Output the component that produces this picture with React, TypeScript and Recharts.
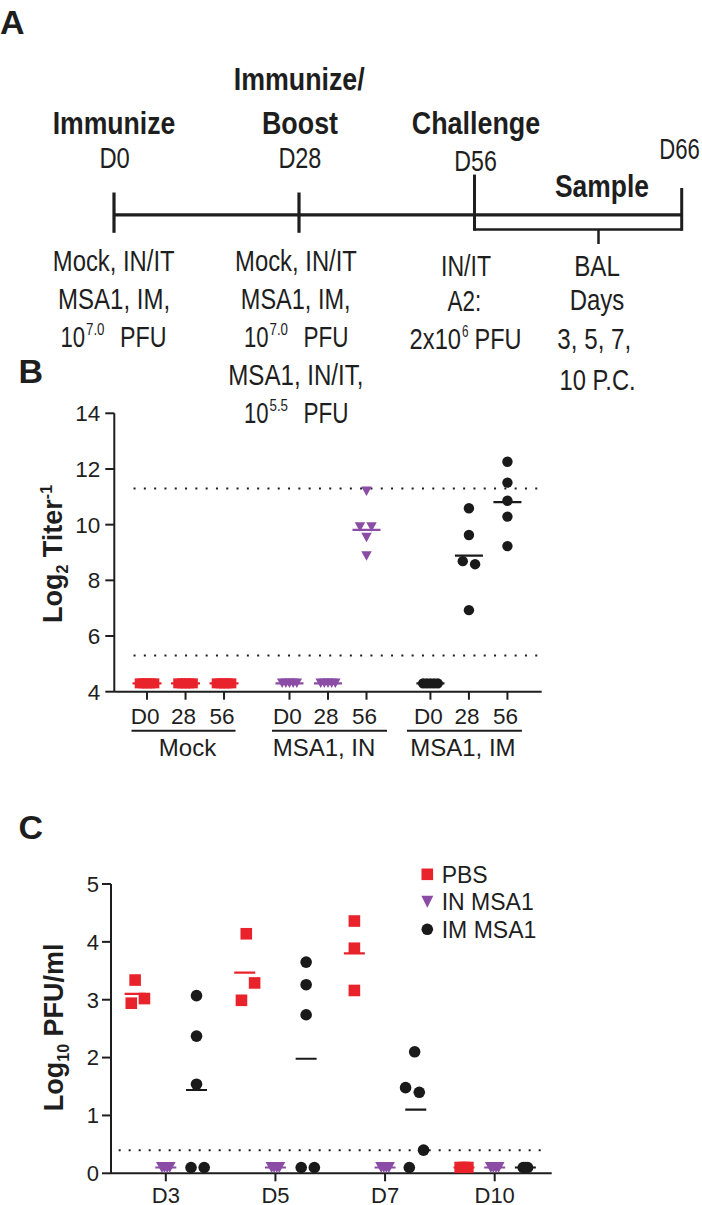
import React from 'react';
import { ScatterChart, Scatter, XAxis, YAxis, ReferenceLine, Legend } from 'recharts';

const RED = '#E8232B';
const PURPLE = '#8A4CA5';
const BLACK = '#1A1A1A';
const INK = '#1E1E1E';
const FONT = "'Liberation Sans', Arial, Helvetica, sans-serif";

// ---------- Panel B data ----------
const bGroups = ['Mock', 'MSA1, IN', 'MSA1, IM'];
const bTickLabels = ['D0', '28', '56', 'D0', '28', '56', 'D0', '28', '56'];
const bTickPositions = [0, 1, 2, 3.7, 4.7, 5.7, 7.36, 8.36, 9.36];
const bYTicks = [4, 6, 8, 10, 12, 14];
const bDetectionLimits = [11.3, 5.3];

const bMockValues = [
  [4.3, 4.3, 4.3, 4.3, 4.3],
  [4.3, 4.3, 4.3, 4.3, 4.3],
  [4.3, 4.3, 4.3, 4.3, 4.3],
];
const bMockJitter = [
  [-0.19, -0.095, 0, 0.095, 0.19],
  [-0.19, -0.095, 0, 0.095, 0.19],
  [-0.19, -0.095, 0, 0.095, 0.19],
];
const bMockMeans = [4.3, 4.3, 4.3];

const bINValues = [
  [4.3, 4.3, 4.3, 4.3, 4.3],
  [4.3, 4.3, 4.3, 4.3, 4.3],
  [11.2, 9.92, 9.92, 9.54, 8.87],
];
const bINJitter = [
  [-0.19, -0.095, 0, 0.095, 0.19],
  [-0.19, -0.095, 0, 0.095, 0.19],
  [0, -0.17, 0.13, 0, 0],
];
const bINMeans = [4.3, 4.3, 9.81];

const bIMValues = [
  [4.3, 4.3, 4.3, 4.3, 4.3],
  [10.59, 9.63, 8.69, 8.58, 6.93],
  [12.26, 11.51, 10.86, 10.29, 9.23],
];
const bIMJitter = [
  [-0.19, -0.095, 0, 0.095, 0.19],
  [0, 0, -0.16, 0.16, 0],
  [0, 0, 0, 0, 0],
];
const bIMMeans = [4.3, 8.89, 10.81];

// ---------- Panel C data ----------
const cDays = ['D3', 'D5', 'D7', 'D10'];
const cDayPositions = [0, 1, 2, 3];
const cYTicks = [0, 1, 2, 3, 4, 5];
const cDetectionLimit = 0.4;
const cLegendLabels = ['PBS', 'IN MSA1', 'IM MSA1'];

const cPBSValues = [
  [3.34, 2.94, 3.02],
  [4.14, 3.29, 2.99],
  [4.36, 3.89, 3.16],
  [0.1, 0.1, 0.1],
];
const cPBSJitter = [
  [0, -0.035, 0.085],
  [0.014, 0.09, -0.03],
  [0, 0, 0],
  [-0.035, 0, 0.035],
];
const cPBSMeans = [3.1, 3.47, 3.8, 0.1];

const cINValues = [
  [0.1, 0.1, 0.1, 0.1],
  [0.1, 0.1, 0.1, 0.1],
  [0.1, 0.1, 0.1, 0.1],
  [0.1, 0.1, 0.1, 0.1],
];
const cINJitter = [
  [-0.035, -0.012, 0.012, 0.035],
  [-0.035, -0.012, 0.012, 0.035],
  [-0.035, -0.012, 0.012, 0.035],
  [-0.035, -0.012, 0.012, 0.035],
];
const cINMeans = [0.1, 0.1, 0.1, 0.1];

const cIMValues = [
  [3.07, 2.37, 1.54, 0.1, 0.1],
  [3.65, 3.26, 2.74, 0.1, 0.1],
  [2.1, 1.48, 1.4, 0.4, 0.1],
  [0.1, 0.1, 0.1],
];
const cIMJitter = [
  [0, 0, 0, -0.05, 0.07],
  [0, 0, 0, -0.045, 0.075],
  [-0.01, -0.093, 0.032, 0.071, -0.059],
  [-0.02, 0, 0.02],
];
const cIMMeans = [1.44, 1.98, 1.1, 0.1];

// ---------- layout constants ----------
const cGroupOffset = [-0.28, 0, 0.28];
const bUnderline = [
  [-54, 50],
  [-56, 59],
  [-62, 53],
];
const bGroupLabelDx = [2, -4, -6];

// ---------- helpers ----------
function buildPoints(values: number[][], jitter: number[][], positions: number[], offset = 0) {
  const out: { x: number; y: number }[] = [];
  values.forEach((arr, i) => {
    arr.forEach((v, k) => out.push({ x: positions[i] + offset + jitter[i][k], y: v }));
  });
  return out;
}
function buildMeans(means: number[], positions: number[], offset = 0) {
  return means.map((m, i) => ({ x: positions[i] + offset, y: m }));
}

const squareShape = (size: number, color: string) => (p: any) =>
  <rect x={p.cx - size / 2} y={p.cy - size / 2} width={size} height={size} fill={color} />;
const circleShape = (r: number, color: string) => (p: any) =>
  <circle cx={p.cx} cy={p.cy} r={r} fill={color} />;
const triShape = (w: number, h: number, color: string) => (p: any) =>
  <path d={`M${p.cx - w / 2},${p.cy - h / 2} L${p.cx + w / 2},${p.cy - h / 2} L${p.cx},${p.cy + h / 2} Z`} fill={color} />;
const meanShape = (w: number, color: string) => (p: any) =>
  <line x1={p.cx - w / 2} x2={p.cx + w / 2} y1={p.cy} y2={p.cy} stroke={color} strokeWidth={2.2} />;

const bPosMock = bTickPositions.slice(0, 3);
const bPosIN = bTickPositions.slice(3, 6);
const bPosIM = bTickPositions.slice(6, 9);

const bMockPts = buildPoints(bMockValues, bMockJitter, bPosMock);
const bINPts = buildPoints(bINValues, bINJitter, bPosIN);
const bIMPts = buildPoints(bIMValues, bIMJitter, bPosIM);
const bMockMeanPts = buildMeans(bMockMeans, bPosMock);
const bINMeanPts = buildMeans(bINMeans, bPosIN);
const bIMMeanPts = buildMeans(bIMMeans, bPosIM);

const cPBSPts = buildPoints(cPBSValues, cPBSJitter, cDayPositions, cGroupOffset[0]);
const cINPts = buildPoints(cINValues, cINJitter, cDayPositions, cGroupOffset[1]);
const cIMPts = buildPoints(cIMValues, cIMJitter, cDayPositions, cGroupOffset[2]);
const cPBSMeanPts = buildMeans(cPBSMeans, cDayPositions, cGroupOffset[0]);
const cINMeanPts = buildMeans(cINMeans, cDayPositions, cGroupOffset[1]);
const cIMMeanPts = buildMeans(cIMMeans, cDayPositions, cGroupOffset[2]);

const axisStyle = { stroke: INK, strokeWidth: 2 };

const BTick = (props: any) => {
  const { x, y, payload } = props;
  const i = bTickPositions.indexOf(payload.value);
  const g = Math.floor(i / 3);
  const mid = i % 3 === 1;
  return (
    <g>
      <text x={x - 2} y={y} dy="0.71em" textAnchor="middle" fontSize={22.5} fill={INK} fontFamily={FONT}>
        {bTickLabels[i]}
      </text>
      {mid && (
        <g>
          <line x1={x + bUnderline[g][0]} x2={x + bUnderline[g][1]} y1={y + 22.7} y2={y + 22.7} stroke={INK} strokeWidth={2} />
          <text x={x + bGroupLabelDx[g]} y={y + 48.2} textAnchor="middle" fontSize={24} fill={INK} fontFamily={FONT}>
            {bGroups[g]}
          </text>
        </g>
      )}
    </g>
  );
};

const CTick = (props: any) => {
  const { x, y, payload } = props;
  const i = cDayPositions.indexOf(payload.value);
  return (
    <text x={x} y={y} dy="0.71em" textAnchor="middle" fontSize={22} fill={INK} fontFamily={FONT}>
      {cDays[i]}
    </text>
  );
};

const CLegend = () => {
  const shapes = [
    (cx: number, cy: number) => <rect x={cx - 5.8} y={cy - 5.8} width={11.6} height={11.6} fill={RED} />,
    (cx: number, cy: number) => <path d={`M${cx - 6},${cy - 6} L${cx + 6},${cy - 6} L${cx},${cy + 6} Z`} fill={PURPLE} />,
    (cx: number, cy: number) => <circle cx={cx} cy={cy} r={5.8} fill={BLACK} />,
  ];
  const rows = [19.3, 46.7, 74.3];
  return (
    <svg width={200} height={90} style={{ display: 'block' }}>
      {cLegendLabels.map((lab, i) => (
        <g key={lab}>
          {shapes[i](12.3, rows[i])}
          <text x={26.7} y={rows[i] + 8.4} fontSize={23} fill={INK} fontFamily={FONT}>
            {lab}
          </text>
        </g>
      ))}
    </svg>
  );
};

// ---------- Panel A (timeline diagram) ----------
type TProps = { x: number; y: number; w: number; s: number; b?: boolean; a?: 'middle' | 'start'; children: React.ReactNode };
const T = ({ x, y, w, s, b, a = 'middle', children }: TProps) => (
  <text
    x={x}
    y={y}
    fontSize={s}
    fontWeight={b ? 'bold' : 'normal'}
    textAnchor={a}
    textLength={w}
    lengthAdjust="spacingAndGlyphs"
    fill={INK}
    fontFamily={FONT}
  >
    {children}
  </text>
);

const RS = 29; // regular size in panel A
const BS = 31; // bold size in panel A
const SS = 16; // superscript size

const PanelA = () => (
  <svg width={702} height={440} style={{ position: 'absolute', left: 0, top: 0 }}>
    {/* headers */}
    <T x={114} y={134.3} w={122.7} s={BS} b>Immunize</T>
    <T x={299.2} y={89.5} w={131} s={BS} b>Immunize/</T>
    <T x={300} y={134.3} w={76} s={BS} b>Boost</T>
    <T x={476} y={134.3} w={128.5} s={BS} b>Challenge</T>
    <T x={602} y={197} w={94} s={BS} b>Sample</T>
    <T x={114.6} y={167.9} w={30.4} s={RS}>D0</T>
    <T x={299.9} y={167.9} w={43} s={RS}>D28</T>
    <T x={475.6} y={171.4} w={42.5} s={RS}>D56</T>
    <T x={679.5} y={158.9} w={40.5} s={RS}>D66</T>
    {/* timeline */}
    <g stroke={INK} strokeLinecap="butt" fill="none">
      <line x1={114} x2={681.7} y1={214.9} y2={214.9} strokeWidth={3.2} />
      <line x1={114} x2={114} y1={192.5} y2={232.8} strokeWidth={3.2} />
      <line x1={299} x2={299} y1={192.5} y2={232.8} strokeWidth={3.2} />
      <line x1={474.5} x2={474.5} y1={174.6} y2={230.8} strokeWidth={3} />
      <line x1={681.7} x2={681.7} y1={188} y2={230.8} strokeWidth={3} />
      <line x1={474.5} x2={681.7} y1={229.6} y2={229.6} strokeWidth={2.5} />
      <line x1={598.5} x2={598.5} y1={229.6} y2={244} strokeWidth={2.5} />
    </g>
    {/* column 1 */}
    <T x={113.7} y={270.8} w={121.8} s={RS}>Mock, IN/IT</T>
    <T x={114.1} y={308.9} w={112} s={RS}>MSA1, IM,</T>
    <T x={60.4} y={346.9} w={24.6} s={RS} a="start">10</T>
    <T x={86} y={335} w={18.5} s={SS} a="start">7.0</T>
    <T x={120} y={346.9} w={46.5} s={RS} a="start">PFU</T>
    {/* column 2 */}
    <T x={296} y={270.8} w={121.8} s={RS}>Mock, IN/IT</T>
    <T x={295.7} y={308.9} w={109.7} s={RS}>MSA1, IM,</T>
    <T x={244} y={346.9} w={24.6} s={RS} a="start">10</T>
    <T x={269.5} y={335} w={18.5} s={SS} a="start">7.0</T>
    <T x={303.5} y={346.9} w={45} s={RS} a="start">PFU</T>
    <T x={295.9} y={385} w={135.2} s={RS}>MSA1, IN/IT,</T>
    <T x={244} y={423} w={24.6} s={RS} a="start">10</T>
    <T x={269.5} y={411} w={18.5} s={SS} a="start">5.5</T>
    <T x={303.5} y={423} w={45} s={RS} a="start">PFU</T>
    {/* column 3 */}
    <T x={466} y={276} w={50} s={RS}>IN/IT</T>
    <T x={464.4} y={311} w={33.6} s={RS}>A2:</T>
    <T x={409.6} y={349} w={51.4} s={RS} a="start">2x10</T>
    <T x={462} y={337} w={6.5} s={SS} a="start">6</T>
    <T x={474.5} y={349} w={47} s={RS} a="start">PFU</T>
    {/* column 4 */}
    <T x={597} y={276} w={45.7} s={RS}>BAL</T>
    <T x={597} y={310} w={54.6} s={RS}>Days</T>
    <T x={594.3} y={349} w={73.9} s={RS}>3, 5, 7,</T>
    <T x={597.6} y={389.5} w={76} s={RS}>10 P.C.</T>
  </svg>
);

const Overlay = () => (
  <svg width={702} height={1205} style={{ position: 'absolute', left: 0, top: 0, pointerEvents: 'none' }}>
    <text x={0} y={33.5} fontSize={34} fontWeight="bold" fill={INK} fontFamily={FONT}>A</text>
    <text x={18.5} y={383.3} fontSize={34} fontWeight="bold" fill={INK} fontFamily={FONT}>B</text>
    <text x={18.5} y={839} fontSize={34} fontWeight="bold" fill={INK} fontFamily={FONT}>C</text>
    <text transform="rotate(-90)" x={-554} y={61.7} textAnchor="middle" fontSize={27} fontWeight="bold" fill={INK} fontFamily={FONT}>
      Log<tspan fontSize={16} dy={6}>2</tspan>
      <tspan dy={-6}> Titer</tspan>
      <tspan fontSize={16} dy={-10}>-1</tspan>
    </text>
    <text transform="rotate(-90)" x={-1027.3} y={63} textAnchor="middle" fontSize={27} fontWeight="bold" fill={INK} fontFamily={FONT}>
      Log<tspan fontSize={16} dy={6}>10</tspan>
      <tspan dy={-6}> PFU/ml</tspan>
    </text>
  </svg>
);

const PanelB = () => (
  <div style={{ position: 'absolute', left: 0, top: 380 }}>
    <ScatterChart width={702} height={400} margin={{ top: 33.3, left: 54.3, right: 160.3, bottom: 28.3 }}>
      <XAxis
        type="number"
        dataKey="x"
        domain={[-0.85, 10.25]}
        ticks={bTickPositions}
        interval={0}
        tickSize={8}
        tickMargin={8.3}
        height={60}
        axisLine={axisStyle}
        tickLine={axisStyle}
        tick={<BTick />}
        allowDataOverflow
      />
      <YAxis
        type="number"
        dataKey="y"
        domain={[4, 14]}
        ticks={bYTicks}
        interval={0}
        tickSize={9}
        tickMargin={5}
        width={60}
        axisLine={axisStyle}
        tickLine={axisStyle}
        tick={{ fontSize: 22.5, fill: INK, fontFamily: FONT }}
        allowDataOverflow
      />
      {bDetectionLimits.map((v) => (
        <ReferenceLine
          key={v}
          segment={[{ x: -0.35, y: v }, { x: 10.25, y: v }]}
          stroke={INK}
          strokeWidth={2}
          strokeDasharray="2 8.3"
          ifOverflow="visible"
        />
      ))}
      <Scatter data={bMockPts} shape={squareShape(10, RED)} isAnimationActive={false} />
      <Scatter data={bINPts} shape={triShape(10.5, 9.5, PURPLE)} isAnimationActive={false} />
      <Scatter data={bIMPts} shape={circleShape(5.2, BLACK)} isAnimationActive={false} />
      <Scatter data={bMockMeanPts} shape={meanShape(29, RED)} isAnimationActive={false} />
      <Scatter data={bINMeanPts} shape={meanShape(28, PURPLE)} isAnimationActive={false} />
      <Scatter data={bIMMeanPts} shape={meanShape(28, BLACK)} isAnimationActive={false} />
    </ScatterChart>
  </div>
);

const PanelC = () => (
  <div style={{ position: 'absolute', left: 0, top: 790 }}>
    <ScatterChart width={702} height={415} margin={{ top: 94, left: 51, right: 150.3, bottom: 1.7 }}>
      <XAxis
        type="number"
        dataKey="x"
        domain={[-0.5, 3.52]}
        ticks={cDayPositions}
        interval={0}
        tickSize={8}
        tickMargin={6}
        height={30}
        axisLine={axisStyle}
        tickLine={axisStyle}
        tick={<CTick />}
        allowDataOverflow
      />
      <YAxis
        type="number"
        dataKey="y"
        domain={[0, 5]}
        ticks={cYTicks}
        interval={0}
        tickSize={9}
        tickMargin={3}
        width={60}
        axisLine={axisStyle}
        tickLine={axisStyle}
        tick={{ fontSize: 22, fill: INK, fontFamily: FONT }}
        allowDataOverflow
      />
      <ReferenceLine
        segment={[{ x: -0.43, y: cDetectionLimit }, { x: 3.49, y: cDetectionLimit }]}
        stroke={INK}
        strokeWidth={2}
        strokeDasharray="2 8"
        ifOverflow="visible"
      />
      <Legend
        layout="vertical"
        align="center"
        verticalAlign="middle"
        wrapperStyle={{ left: 415, top: 65, width: 200, height: 90 }}
        content={() => <CLegend />}
      />
      <Scatter name="PBS" data={cPBSPts} shape={squareShape(11.6, RED)} isAnimationActive={false} />
      <Scatter name="IN MSA1" data={cINPts} shape={triShape(12, 11, PURPLE)} isAnimationActive={false} />
      <Scatter name="IM MSA1" data={cIMPts} shape={circleShape(5.8, BLACK)} isAnimationActive={false} />
      <Scatter data={cPBSMeanPts} shape={meanShape(21, RED)} isAnimationActive={false} legendType="none" />
      <Scatter data={cINMeanPts} shape={meanShape(21, PURPLE)} isAnimationActive={false} legendType="none" />
      <Scatter data={cIMMeanPts} shape={meanShape(21, BLACK)} isAnimationActive={false} legendType="none" />
    </ScatterChart>
  </div>
);

export default function App() {
  return (
    <div style={{ position: 'absolute', left: 0, top: 0, width: 702, height: 1205, background: '#fff', overflow: 'hidden' }}>
      <PanelA />
      <PanelB />
      <PanelC />
      <Overlay />
    </div>
  );
}
